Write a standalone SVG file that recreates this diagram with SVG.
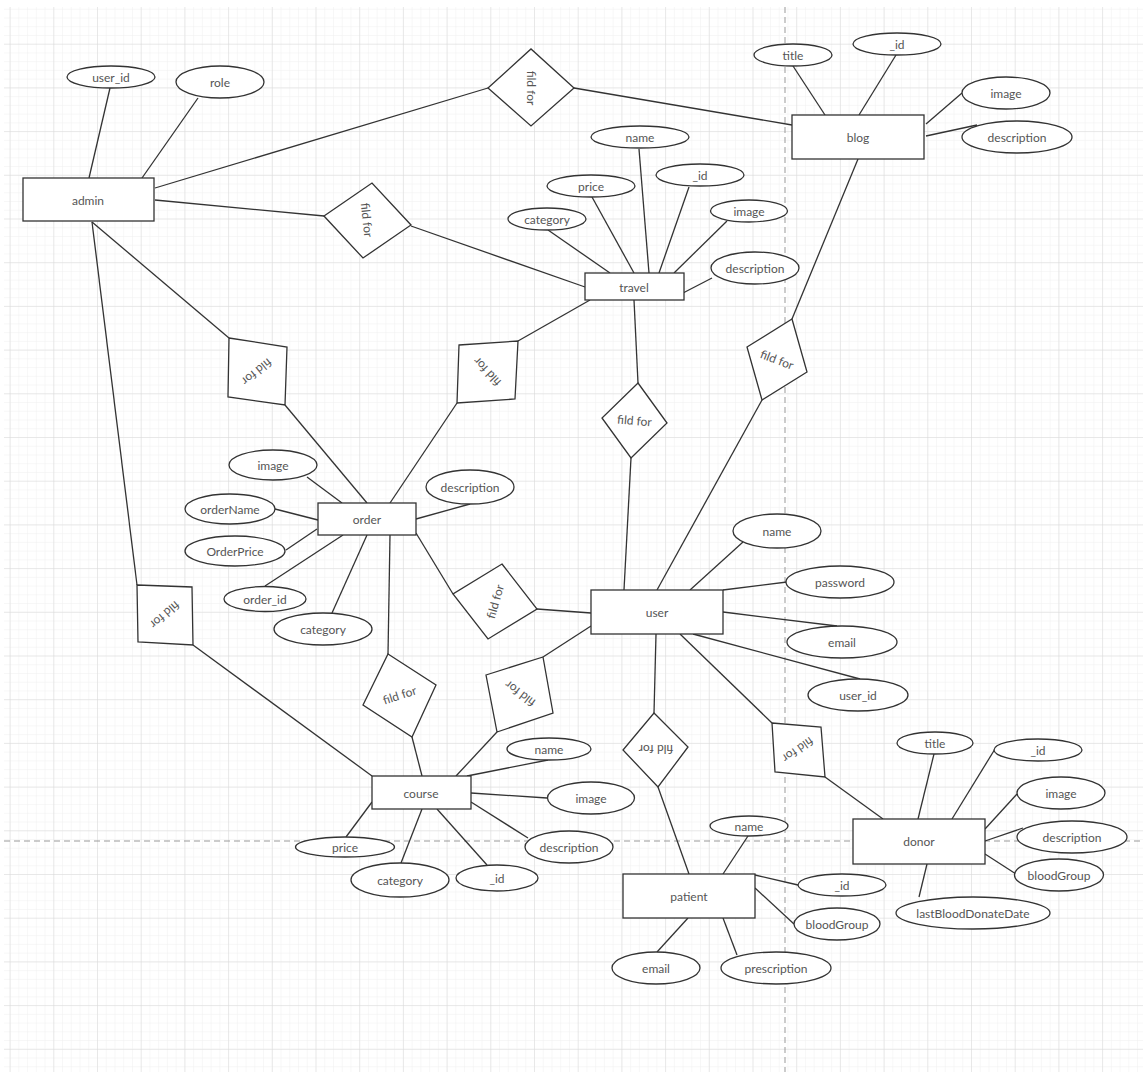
<svg xmlns="http://www.w3.org/2000/svg" width="1143" height="1072" viewBox="0 0 1143 1072">
<style>
.c{stroke:#333;stroke-width:1.3;fill:none}
.r,.e,.d{fill:#fff;stroke:#333;stroke-width:1.3}
.t{font-family:"Lato","Liberation Sans",sans-serif;font-size:12px;fill:#555;text-anchor:middle;dominant-baseline:central}
.dash{stroke:#999;stroke-width:1;stroke-dasharray:6 4;fill:none}
</style>
<defs>
<pattern id="minor" patternUnits="userSpaceOnUse" x="9.6" y="0" width="8.74" height="8.74">
<path d="M8.74 0H0V8.74" fill="none" stroke="#efefef" stroke-width="1"/>
</pattern>
<pattern id="major" patternUnits="userSpaceOnUse" x="9.6" y="0" width="43.7" height="43.7">
<path d="M43.7 0H0V43.7" fill="none" stroke="#d9d9d9" stroke-width="1"/>
</pattern>
</defs>
<rect width="1143" height="1072" fill="#fff"/>
<rect x="4" y="7" width="1139" height="1065" fill="url(#minor)"/>
<rect x="4" y="7" width="1139" height="1065" fill="url(#major)"/>
<line class="dash" x1="785" y1="7" x2="785" y2="1072"/>
<line class="dash" x1="4" y1="841" x2="1143" y2="841"/>

<g id="connectors">
<line class="c" x1="110" y1="88" x2="89" y2="178"/>
<line class="c" x1="198" y1="98" x2="142" y2="178"/>
<line class="c" x1="155" y1="188" x2="488" y2="88"/>
<line class="c" x1="574" y1="88" x2="792" y2="125"/>
<line class="c" x1="155" y1="200" x2="324" y2="216"/>
<line class="c" x1="411" y1="226" x2="585" y2="287"/>
<line class="c" x1="92" y1="222" x2="229" y2="338"/>
<line class="c" x1="92" y1="222" x2="137" y2="585"/>
<line class="c" x1="285" y1="405" x2="367" y2="503"/>
<line class="c" x1="390" y1="503" x2="457" y2="403"/>
<line class="c" x1="518" y1="341" x2="590" y2="300"/>
<line class="c" x1="634" y1="300" x2="638" y2="383"/>
<line class="c" x1="631" y1="458" x2="624" y2="590"/>
<line class="c" x1="858" y1="159" x2="792" y2="319"/>
<line class="c" x1="762" y1="400" x2="657" y2="590"/>
<line class="c" x1="416" y1="533" x2="453" y2="594"/>
<line class="c" x1="537" y1="609" x2="591" y2="613"/>
<line class="c" x1="390" y1="535" x2="388" y2="654"/>
<line class="c" x1="412" y1="737" x2="422" y2="776"/>
<line class="c" x1="193" y1="645" x2="372" y2="776"/>
<line class="c" x1="456" y1="776" x2="497" y2="732"/>
<line class="c" x1="543" y1="657" x2="591" y2="626"/>
<line class="c" x1="656" y1="634" x2="654" y2="713"/>
<line class="c" x1="658" y1="787" x2="689" y2="874"/>
<line class="c" x1="680" y1="634" x2="772" y2="723"/>
<line class="c" x1="825" y1="777" x2="883" y2="819"/>
<!-- user attributes -->
<line class="c" x1="743" y1="542" x2="690" y2="590"/>
<line class="c" x1="723" y1="590" x2="787" y2="582"/>
<line class="c" x1="723" y1="612" x2="837" y2="626"/>
<line class="c" x1="693" y1="634" x2="860" y2="679"/>
<!-- travel attributes -->
<line class="c" x1="639" y1="149" x2="649" y2="273"/>
<line class="c" x1="689" y1="187" x2="659" y2="273"/>
<line class="c" x1="592" y1="197" x2="634" y2="273"/>
<line class="c" x1="727" y1="221" x2="674" y2="273"/>
<line class="c" x1="548" y1="230" x2="610" y2="273"/>
<line class="c" x1="712" y1="278" x2="683" y2="293"/>
<!-- blog attributes -->
<line class="c" x1="793" y1="66" x2="825" y2="115"/>
<line class="c" x1="896" y1="55" x2="859" y2="115"/>
<line class="c" x1="962" y1="93" x2="926" y2="124"/>
<line class="c" x1="977" y1="125" x2="926" y2="136"/>
<!-- order attributes -->
<line class="c" x1="307" y1="477" x2="342" y2="503"/>
<line class="c" x1="275" y1="509" x2="318" y2="520"/>
<line class="c" x1="286" y1="550" x2="317" y2="529"/>
<line class="c" x1="265" y1="586" x2="343" y2="535"/>
<line class="c" x1="332" y1="613" x2="367" y2="535"/>
<line class="c" x1="416" y1="519" x2="470" y2="504"/>
<!-- course attributes -->
<line class="c" x1="467" y1="776" x2="548" y2="760"/>
<line class="c" x1="471" y1="793" x2="547" y2="798"/>
<line class="c" x1="471" y1="802" x2="528" y2="838"/>
<line class="c" x1="437" y1="809" x2="487" y2="865"/>
<line class="c" x1="422" y1="809" x2="401" y2="863"/>
<line class="c" x1="372" y1="802" x2="346" y2="837"/>
<!-- patient attributes -->
<line class="c" x1="748" y1="836" x2="723" y2="874"/>
<line class="c" x1="755" y1="875" x2="798" y2="885"/>
<line class="c" x1="755" y1="888" x2="794" y2="924"/>
<line class="c" x1="688" y1="918" x2="657" y2="952"/>
<line class="c" x1="723" y1="918" x2="737" y2="955"/>
<!-- donor attributes -->
<line class="c" x1="934" y1="754" x2="918" y2="819"/>
<line class="c" x1="995" y1="749" x2="952" y2="819"/>
<line class="c" x1="1017" y1="794" x2="985" y2="829"/>
<line class="c" x1="985" y1="841" x2="1023" y2="828"/>
<line class="c" x1="985" y1="854" x2="1016" y2="874"/>
<line class="c" x1="927" y1="864" x2="919" y2="897"/>
</g>

<!-- relationships -->
<g id="rel-admin-blog"><polygon class="d" points="488,88 531,49 574,88 531,126"/><text class="t" transform="translate(531,88) rotate(90)">fild for</text></g>
<g id="rel-admin-travel"><polygon class="d" points="324,216 372,183 411,225 363,258"/><text class="t" transform="translate(367,220) rotate(84)">fild for</text></g>
<g id="rel-admin-order"><polygon class="d" points="229,338 287,347 285,405 228,397"/><text class="t" transform="translate(257,372) rotate(141)">fild for</text></g>
<g id="rel-order-travel"><polygon class="d" points="459,345 518,341 515,399 457,403"/><text class="t" transform="translate(487,372) rotate(-133)">fild for</text></g>
<g id="rel-travel-user"><polygon class="d" points="638,383 667,423 631,458 602,418"/><text class="t" transform="translate(634.5,420.5) rotate(5)">fild for</text></g>
<g id="rel-blog-user"><polygon class="d" points="792,319 807,372 762,400 747,347"/><text class="t" transform="translate(777,359.5) rotate(21)">fild for</text></g>
<g id="rel-order-user"><polygon class="d" points="502,564 537,609 488,639 453,594"/><text class="t" transform="translate(495,601.5) rotate(-74)">fild for</text></g>
<g id="rel-order-course"><polygon class="d" points="388,654 436,685 412,737 363,705"/><text class="t" transform="translate(399.5,695) rotate(-18)">fild for</text></g>
<g id="rel-admin-course"><polygon class="d" points="137,585 192,587 193,645 138,642"/><text class="t" transform="translate(165,615) rotate(139)">fild for</text></g>
<g id="rel-course-user"><polygon class="d" points="486,675 543,657 553,713 497,732"/><text class="t" transform="translate(520,694) rotate(-143)">fild for</text></g>
<g id="rel-user-patient"><polygon class="d" points="654,713 688,747 658,787 623,750"/><text class="t" transform="translate(656,749) rotate(180)">fild for</text></g>
<g id="rel-user-donor"><polygon class="d" points="772,723 821,727 825,777 775,772"/><text class="t" transform="translate(798,750) rotate(145)">fild for</text></g>

<!-- entities -->
<g id="admin"><rect class="r" x="23" y="178" width="131" height="43"/><text class="t" x="88" y="200">admin</text>
<ellipse class="e" cx="111" cy="77" rx="44" ry="11"/><text class="t" x="111" y="77">user_id</text>
<ellipse class="e" cx="220" cy="82" rx="44" ry="16"/><text class="t" x="220" y="82">role</text></g>

<g id="blog"><rect class="r" x="792" y="115" width="132" height="44"/><text class="t" x="858" y="137">blog</text>
<ellipse class="e" cx="793" cy="55" rx="39" ry="11"/><text class="t" x="793" y="55">title</text>
<ellipse class="e" cx="897" cy="44" rx="44" ry="11"/><text class="t" x="897" y="44">_id</text>
<ellipse class="e" cx="1006" cy="93" rx="44" ry="16"/><text class="t" x="1006" y="93">image</text>
<ellipse class="e" cx="1017" cy="137" rx="55" ry="16"/><text class="t" x="1017" y="137">description</text></g>

<g id="travel"><rect class="r" x="585" y="273" width="99" height="27"/><text class="t" x="634" y="287">travel</text>
<ellipse class="e" cx="640" cy="137" rx="49" ry="11"/><text class="t" x="640" y="137">name</text>
<ellipse class="e" cx="700" cy="175" rx="44" ry="11"/><text class="t" x="700" y="175">_id</text>
<ellipse class="e" cx="591" cy="186" rx="44" ry="11"/><text class="t" x="591" y="186">price</text>
<ellipse class="e" cx="749" cy="211" rx="38.5" ry="11"/><text class="t" x="749" y="211">image</text>
<ellipse class="e" cx="547" cy="219" rx="39" ry="11"/><text class="t" x="547" y="219">category</text>
<ellipse class="e" cx="755" cy="268" rx="44" ry="16"/><text class="t" x="755" y="268">description</text></g>

<g id="order"><rect class="r" x="318" y="503" width="98" height="32"/><text class="t" x="367" y="519">order</text>
<ellipse class="e" cx="273" cy="465" rx="44" ry="15"/><text class="t" x="273" y="465">image</text>
<ellipse class="e" cx="230" cy="509" rx="45" ry="15"/><text class="t" x="230" y="509">orderName</text>
<ellipse class="e" cx="235" cy="551" rx="50" ry="15"/><text class="t" x="235" y="551">OrderPrice</text>
<ellipse class="e" cx="265" cy="599" rx="41" ry="12.5"/><text class="t" x="265" y="599">order_id</text>
<ellipse class="e" cx="323" cy="629" rx="49" ry="16"/><text class="t" x="323" y="629">category</text>
<ellipse class="e" cx="470" cy="487" rx="44" ry="17"/><text class="t" x="470" y="487">description</text></g>

<g id="user"><rect class="r" x="591" y="590" width="132" height="44"/><text class="t" x="657" y="612">user</text>
<ellipse class="e" cx="777" cy="531" rx="44" ry="17"/><text class="t" x="777" y="531">name</text>
<ellipse class="e" cx="840" cy="582" rx="54" ry="16"/><text class="t" x="840" y="582">password</text>
<ellipse class="e" cx="842" cy="642" rx="55" ry="16"/><text class="t" x="842" y="642">email</text>
<ellipse class="e" cx="858" cy="695" rx="50" ry="16"/><text class="t" x="858" y="695">user_id</text></g>

<g id="course"><rect class="r" x="372" y="776" width="99" height="33"/><text class="t" x="421" y="793">course</text>
<ellipse class="e" cx="549" cy="749" rx="42" ry="11"/><text class="t" x="549" y="749">name</text>
<ellipse class="e" cx="591" cy="798" rx="43.5" ry="16"/><text class="t" x="591" y="798">image</text>
<ellipse class="e" cx="569" cy="847" rx="44" ry="16"/><text class="t" x="569" y="847">description</text>
<ellipse class="e" cx="497" cy="878" rx="41" ry="13"/><text class="t" x="497" y="878">_id</text>
<ellipse class="e" cx="400" cy="880" rx="49" ry="17"/><text class="t" x="400" y="880">category</text>
<ellipse class="e" cx="345" cy="847" rx="49.5" ry="10"/><text class="t" x="345" y="847">price</text></g>

<g id="patient"><rect class="r" x="623" y="874" width="132" height="44"/><text class="t" x="689" y="896">patient</text>
<ellipse class="e" cx="749" cy="826" rx="39" ry="10"/><text class="t" x="749" y="826">name</text>
<ellipse class="e" cx="842" cy="885" rx="44" ry="11"/><text class="t" x="842" y="885">_id</text>
<ellipse class="e" cx="837" cy="924" rx="43" ry="16"/><text class="t" x="837" y="924">bloodGroup</text>
<ellipse class="e" cx="656" cy="968" rx="44" ry="16"/><text class="t" x="656" y="968">email</text>
<ellipse class="e" cx="776" cy="968" rx="55" ry="16"/><text class="t" x="776" y="968">prescription</text></g>

<g id="donor"><rect class="r" x="853" y="819" width="132" height="45"/><text class="t" x="919" y="841">donor</text>
<ellipse class="e" cx="935" cy="743" rx="38" ry="11"/><text class="t" x="935" y="743">title</text>
<ellipse class="e" cx="1038" cy="750" rx="44" ry="11"/><text class="t" x="1038" y="750">_id</text>
<ellipse class="e" cx="1061" cy="793" rx="44" ry="16"/><text class="t" x="1061" y="793">image</text>
<ellipse class="e" cx="1072" cy="837" rx="55" ry="16"/><text class="t" x="1072" y="837">description</text>
<ellipse class="e" cx="1059" cy="875" rx="44.5" ry="16"/><text class="t" x="1059" y="875">bloodGroup</text>
<ellipse class="e" cx="973" cy="913" rx="77" ry="16"/><text class="t" x="973" y="913">lastBloodDonateDate</text></g>
</svg>
